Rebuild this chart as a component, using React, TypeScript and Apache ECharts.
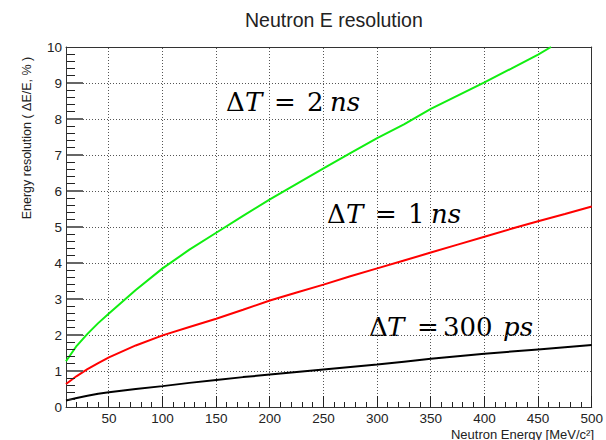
import React, { useEffect, useRef } from "react";
import * as echarts from "echarts";

// Neutron kinetic energy [MeV]
const energy = [10, 20, 30, 40, 50, 75, 100, 125, 150, 175, 200, 225, 250, 275, 300, 325, 350, 375, 400, 425, 450, 475, 500];
// Energy resolution [%] for the three timing resolutions
const res2ns = [1.27, 1.7, 2.03, 2.33, 2.6, 3.25, 3.85, 4.37, 4.84, 5.31, 5.77, 6.2, 6.63, 7.05, 7.47, 7.85, 8.28, 8.65, 9.02, 9.4, 9.79];
const res2nsEnd: [number, number] = [462, 10.0];
const res1ns = [0.64, 0.86, 1.05, 1.22, 1.38, 1.71, 1.99, 2.22, 2.45, 2.7, 2.96, 3.18, 3.4, 3.63, 3.85, 4.07, 4.29, 4.51, 4.73, 4.95, 5.16, 5.36, 5.57];
const res300ps = [0.18, 0.25, 0.31, 0.37, 0.41, 0.5, 0.58, 0.67, 0.75, 0.83, 0.9, 0.97, 1.04, 1.11, 1.18, 1.26, 1.34, 1.41, 1.48, 1.54, 1.6, 1.66, 1.72];

// Axis ticks
const xMajor = [50, 100, 150, 200, 250, 300, 350, 400, 450, 500];
const xGridValues = [50, 100, 150, 200, 250, 300, 350, 400, 450];
const xMinor = [20, 30, 40, 60, 70, 80, 90, 110, 120, 130, 140, 160, 170, 180, 190, 210, 220, 230, 240, 260, 270, 280, 290, 310, 320, 330, 340, 360, 370, 380, 390, 410, 420, 430, 440, 460, 470, 480, 490];
const yMajor = [1, 2, 3, 4, 5, 6, 7, 8, 9];
const yGridValues = [1, 2, 3, 4, 5, 6, 7, 8, 9];
const yMinor = [0.2, 0.4, 0.6, 0.8, 1.2, 1.4, 1.6, 1.8, 2.2, 2.4, 2.6, 2.8, 3.2, 3.4, 3.6, 3.8, 4.2, 4.4, 4.6, 4.8, 5.2, 5.4, 5.6, 5.8, 6.2, 6.4, 6.6, 6.8, 7.2, 7.4, 7.6, 7.8, 8.2, 8.4, 8.6, 8.8, 9.2, 9.4, 9.6, 9.8];

const SANS = "Liberation Sans, Arial, Helvetica, sans-serif";
const SERIF = "DejaVu Serif, Liberation Serif, serif";
const TICK = "#222222";
const MAJOR_Y = "#666666";
const DOT = "#555555";

function pairs(xs: number[], ys: number[]) {
  return ys.map((y, i) => [xs[i], y]);
}

function annotation(x: number, y: number, tokens: { t: string; dx: number; italic?: boolean }[], size: number) {
  return {
    type: "group",
    x,
    y,
    children: tokens.map((tk) => ({
      type: "text",
      x: tk.dx,
      y: 0,
      style: {
        text: tk.t,
        fontFamily: SERIF,
        fontSize: size,
        fontStyle: tk.italic ? "italic" : "normal",
        fill: "#000",
        align: "left",
        verticalAlign: "middle",
      },
    })),
  };
}

function guideSeries(kind: string, data: number[][], z: number) {
  return {
    type: "custom",
    silent: true,
    clip: false,
    z,
    data,
    renderItem: (params: any, api: any) => {
      const cs = params.coordSys;
      const p = api.coord([api.value(0), api.value(1)]);
      if (kind === "xMinor" || kind === "xMajor") {
        const len = kind === "xMajor" ? 11 : 5;
        const x = Math.round(p[0] - 0.5);
        return { type: "rect", shape: { x, y: Math.round(p[1]) - len, width: 1, height: len }, style: { fill: TICK } };
      }
      if (kind === "yMinor" || kind === "yMajor") {
        const major = kind === "yMajor";
        const len = major ? 16 : 8;
        const y = Math.round(p[1] - (major ? 1 : 0.5));
        return {
          type: "rect",
          shape: { x: Math.round(p[0]) + 1, y, width: len, height: major ? 2 : 1 },
          style: { fill: major ? MAJOR_Y : TICK },
        };
      }
      const children: any[] = [];
      if (kind === "vGrid") {
        const x = Math.round(p[0] - 0.5);
        for (let yy = Math.ceil(cs.y) + 1; yy < cs.y + cs.height - 1; yy += 3) {
          children.push({ type: "rect", shape: { x, y: yy, width: 1, height: 1 }, style: { fill: DOT } });
        }
      } else {
        const y = Math.round(p[1] - 0.5);
        for (let xx = Math.ceil(cs.x) + 17; xx < cs.x + cs.width - 1; xx += 3) {
          children.push({ type: "rect", shape: { x: xx, y, width: 1, height: 1 }, style: { fill: DOT } });
        }
      }
      return { type: "group", children };
    },
  };
}

export default function App() {
  const ref = useRef<HTMLDivElement>(null);
  useEffect(() => {
    if (!ref.current) return;
    const chart = echarts.init(ref.current, undefined, { renderer: "svg" });
    const greenData = pairs(energy, res2ns);
    greenData.push(res2nsEnd);
    const axisColor = "#333";
    const labelStyle = { fontFamily: SANS, fontSize: 13.5, color: "#222" };
    const frameAxis = {
      type: "value",
      axisLine: { show: true, onZero: false, lineStyle: { color: axisColor, width: 1 } },
      axisTick: { show: false },
      axisLabel: { show: false },
      splitLine: { show: false },
    };
    const option: any = {
      animation: false,
      backgroundColor: "#ffffff",
      title: {
        text: "Neutron E resolution",
        left: 240,
        top: 5,
        textStyle: { fontFamily: SANS, fontSize: 19.5, fontWeight: "normal", color: "#222" },
      },
      grid: {
        left: 66,
        right: 11,
        top: 47,
        bottom: 33,
      },
      xAxis: [
        {
          type: "value",
          min: 10,
          max: 500,
          position: "bottom",
          axisLine: { show: true, onZero: false, lineStyle: { color: axisColor, width: 1 } },
          axisTick: { show: false },
          axisLabel: { show: true, customValues: xMajor, margin: 4, ...labelStyle },
          splitLine: { show: false },
        },
        { ...frameAxis, min: 10, max: 500, position: "top" },
      ],
      yAxis: [
        {
          type: "value",
          min: 0,
          max: 10,
          interval: 1,
          position: "left",
          axisLine: { show: true, onZero: false, lineStyle: { color: axisColor, width: 1 } },
          axisTick: { show: false },
          minorTick: { show: false },
          axisLabel: { margin: 4, ...labelStyle },
          splitLine: { show: false },
        },
        { ...frameAxis, min: 0, max: 10, position: "right" },
      ],
      series: [
        guideSeries("vGrid", xGridValues.map((v) => [v, 0]), 1),
        guideSeries("hGrid", yGridValues.map((v) => [10, v]), 1),
        guideSeries("xMinor", xMinor.map((v) => [v, 0]), 4),
        guideSeries("xMajor", xMajor.map((v) => [v, 0]), 4),
        guideSeries("yMinor", yMinor.map((v) => [10, v]), 4),
        guideSeries("yMajor", yMajor.map((v) => [10, v]), 4),
        {
          type: "line",
          name: "300 ps",
          data: pairs(energy, res300ps),
          symbol: "none",
          z: 3,
          lineStyle: { color: "#000000", width: 2 },
        },
        {
          type: "line",
          name: "1 ns",
          data: pairs(energy, res1ns),
          symbol: "none",
          z: 3,
          lineStyle: { color: "#ff0000", width: 2 },
        },
        {
          type: "line",
          name: "2 ns",
          data: greenData,
          symbol: "none",
          z: 3,
          lineStyle: { color: "#11ee11", width: 2 },
        },
      ],
      graphic: [
        {
          type: "text",
          x: 27,
          y: 138,
          rotation: Math.PI / 2,
          style: {
            text: "Energy resolution ( \u0394E/E, % )",
            fontFamily: SANS,
            fontSize: 12.5,
            fill: "#222",
            align: "center",
            verticalAlign: "middle",
          },
        },
        {
          type: "text",
          x: 594,
          y: 434,
          style: {
            text: "Neutron Energy [MeV/c\u00b2]",
            fontFamily: SANS,
            fontSize: 13,
            fill: "#222",
            align: "right",
            verticalAlign: "middle",
          },
        },
        annotation(226, 102, [
          { t: "\u0394", dx: 0 },
          { t: "T", dx: 19, italic: true },
          { t: "=", dx: 48 },
          { t: "2", dx: 81 },
          { t: "ns", dx: 104, italic: true },
        ], 26),
        annotation(327, 214, [
          { t: "\u0394", dx: 0 },
          { t: "T", dx: 19, italic: true },
          { t: "=", dx: 48 },
          { t: "1", dx: 81 },
          { t: "ns", dx: 104, italic: true },
        ], 26),
        annotation(369, 327, [
          { t: "\u0394", dx: 0 },
          { t: "T", dx: 18, italic: true },
          { t: "=", dx: 48 },
          { t: "300", dx: 74 },
          { t: "ps", dx: 134, italic: true },
        ], 26),
      ],
    };
    chart.setOption(option);
    return () => chart.dispose();
  }, []);
  return (
    <div
      ref={ref}
      style={{ position: "fixed", left: 0, top: 0, width: 606, height: 440, background: "#fff" }}
    />
  );
}
